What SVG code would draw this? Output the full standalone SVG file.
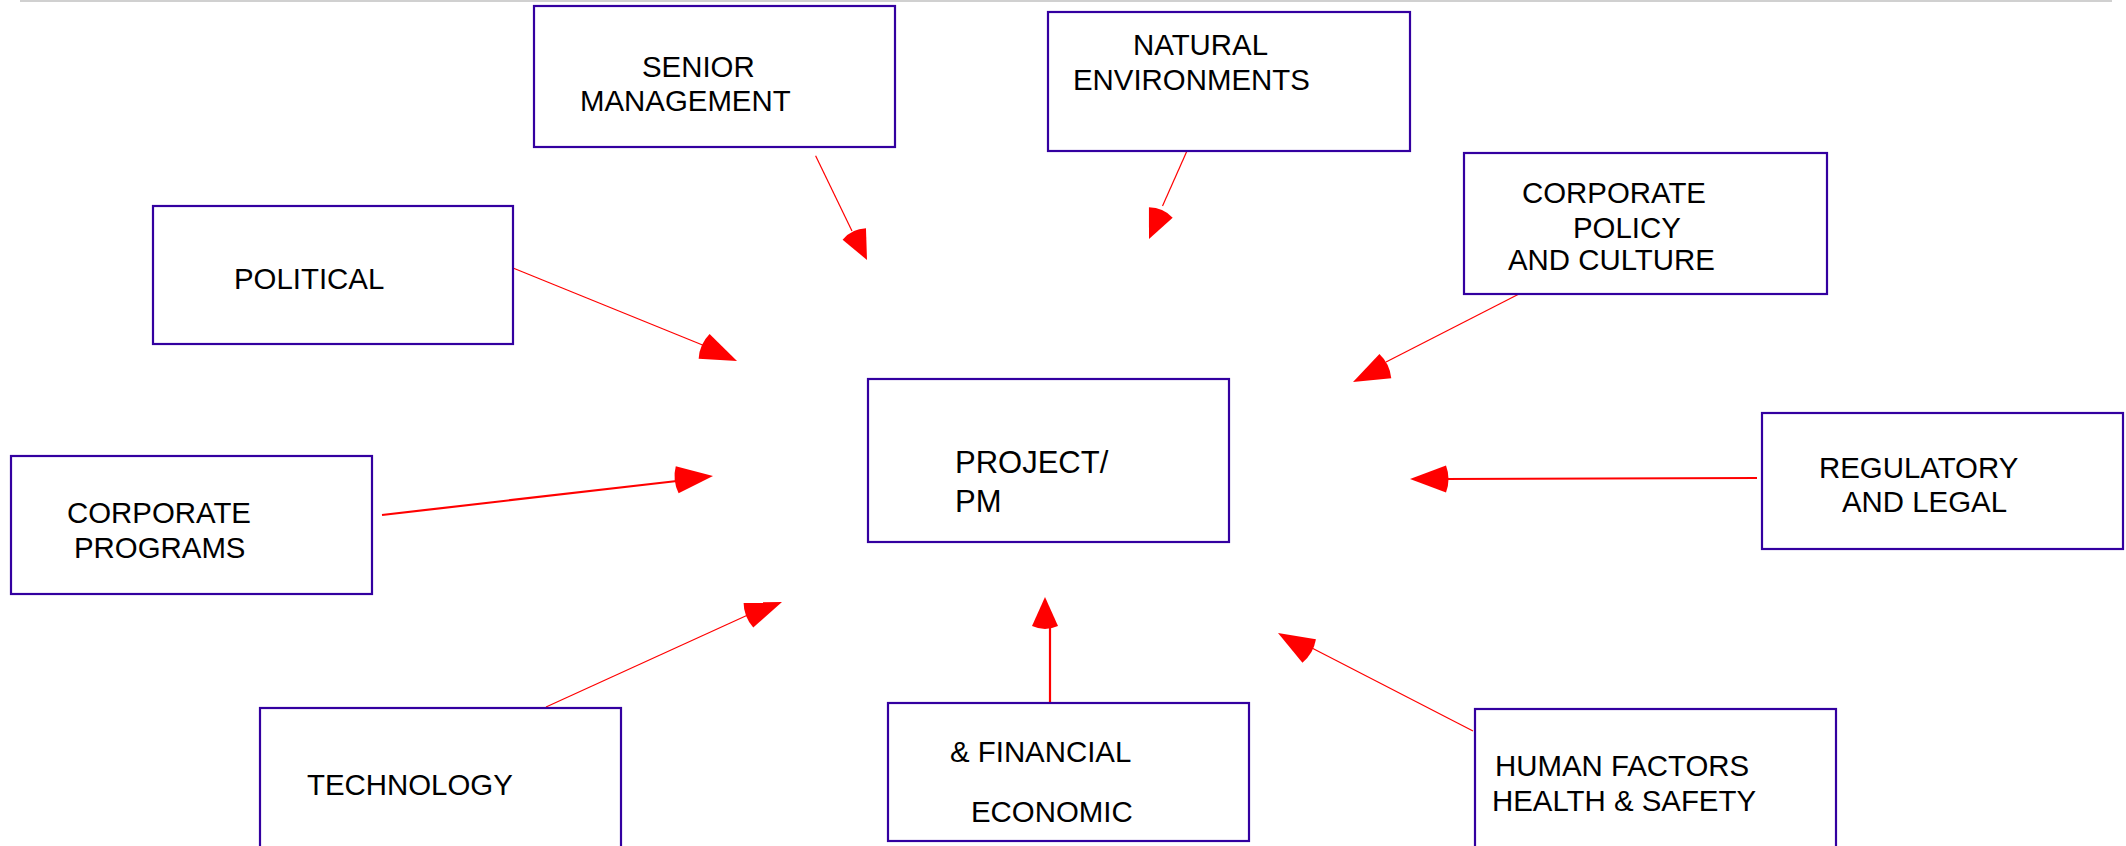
<svg xmlns="http://www.w3.org/2000/svg" xmlns:xlink="http://www.w3.org/1999/xlink" width="2126" height="846" viewBox="0 0 2126 846">
<style>
.box{fill:#fff;stroke:#3300a0;stroke-width:2.2}
.t{font-family:"Liberation Sans",Arial,sans-serif;font-size:29.4px;fill:#000}
.tb{font-size:31px}
.c{stroke:#ff0000;fill:none;stroke-width:1.2}
.ck{stroke-width:2.2}
.ah{fill:#ff0000}
</style>
<defs>
<path id="ahL" d="M0,0 L-36,-13.5 A38.5,38.5 0 0,0 -36,13.5 Z"/>
<path id="ahS" d="M0,0 L-29,-13 A31.8,31.8 0 0,0 -29,13 Z"/>
</defs>
<rect width="2126" height="846" fill="#fff"/>
<line x1="20" y1="1" x2="2112" y2="1" stroke="#c0c0c0" stroke-width="1.5"/>

<g id="connectors">
<line class="c" x1="815.6" y1="155.7" x2="852" y2="231"/>
<use class="ah" xlink:href="#ahS" transform="translate(867,260) rotate(64)"/>
<line class="c" x1="1194.5" y1="134" x2="1162.5" y2="206"/>
<use class="ah" xlink:href="#ahS" transform="translate(1149,239) rotate(114)"/>
<line class="c" x1="1519" y1="294" x2="1386" y2="362"/>
<use class="ah" xlink:href="#ahL" transform="translate(1353,382) rotate(154)"/>
<line class="c" x1="513" y1="268" x2="705" y2="346"/>
<use class="ah" xlink:href="#ahL" transform="translate(737,361) rotate(24)"/>
<line class="c ck" x1="382" y1="515" x2="677" y2="481"/>
<use class="ah" xlink:href="#ahL" transform="translate(713,476) rotate(-6)"/>
<line class="c ck" x1="1757" y1="478" x2="1444" y2="479"/>
<use class="ah" xlink:href="#ahL" transform="translate(1410,479) rotate(180)"/>
<line class="c" x1="546" y1="707" x2="750" y2="614"/>
<use class="ah" xlink:href="#ahL" transform="translate(782,602) rotate(-21)"/>
<line class="c ck" x1="1050" y1="703" x2="1050" y2="625"/>
<use class="ah" xlink:href="#ahS" transform="translate(1045,597) rotate(-90)"/>
<line class="c" x1="1473" y1="731" x2="1310" y2="647"/>
<use class="ah" xlink:href="#ahL" transform="translate(1278,633) rotate(-150)"/>
</g>

<g id="senior-management">
<rect class="box" x="534" y="6" width="361" height="141"/>
<text class="t" x="642" y="77">SENIOR</text>
<text class="t" x="580" y="111">MANAGEMENT</text>
</g>
<g id="natural-environments">
<rect class="box" x="1048" y="12" width="362" height="139"/>
<text class="t" x="1133" y="55">NATURAL</text>
<text class="t" x="1073" y="90">ENVIRONMENTS</text>
</g>
<g id="corporate-policy">
<rect class="box" x="1464" y="153" width="363" height="141"/>
<text class="t" x="1522" y="203">CORPORATE</text>
<text class="t" x="1573" y="238">POLICY</text>
<text class="t" x="1508" y="270">AND CULTURE</text>
</g>
<g id="political">
<rect class="box" x="153" y="206" width="360" height="138"/>
<text class="t" x="234" y="289">POLITICAL</text>
</g>
<g id="corporate-programs">
<rect class="box" x="11" y="456" width="361" height="138"/>
<text class="t" x="67" y="523">CORPORATE</text>
<text class="t" x="74" y="558">PROGRAMS</text>
</g>
<g id="project-pm">
<rect class="box" x="868" y="379" width="361" height="163"/>
<text class="t tb" x="955" y="473">PROJECT/</text>
<text class="t tb" x="955" y="512">PM</text>
</g>
<g id="regulatory-legal">
<rect class="box" x="1762" y="413" width="361" height="136"/>
<text class="t" x="1819" y="478">REGULATORY</text>
<text class="t" x="1842" y="512">AND LEGAL</text>
</g>
<g id="technology">
<rect class="box" x="260" y="708" width="361" height="150"/>
<text class="t" x="307" y="795">TECHNOLOGY</text>
</g>
<g id="economic-financial">
<rect class="box" x="888" y="703" width="361" height="138"/>
<text class="t" x="950" y="762">&amp; FINANCIAL</text>
<text class="t" x="971" y="822">ECONOMIC</text>
</g>
<g id="human-factors">
<rect class="box" x="1475" y="709" width="361" height="150"/>
<text class="t" x="1495" y="776">HUMAN FACTORS</text>
<text class="t" x="1492" y="811">HEALTH &amp; SAFETY</text>
</g>
</svg>
